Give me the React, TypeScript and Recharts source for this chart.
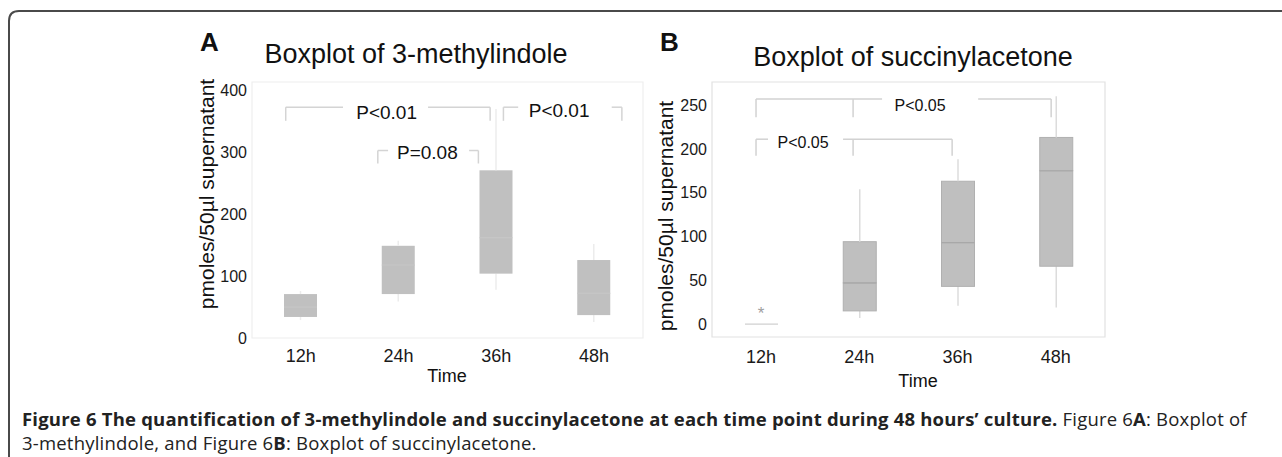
import React from 'react';
import {
    ComposedChart,
    Bar,
    Scatter,
    XAxis,
    YAxis,
    ReferenceLine,
    ReferenceDot,
    ReferenceArea,
} from 'recharts';

const times = ['12h', '24h', '36h', '48h'];
const positions = [1, 2, 3, 4];

// A: 3-methylindole (pmoles/50ul)
const indoleLow = [29, 59, 78, 26];
const indoleQ1 = [34, 71, 104, 37];
const indoleMedian = [50, 118, 162, 72];
const indoleQ3 = [71, 149, 271, 126];
const indoleHigh = [76, 157, 370, 152];

// B: succinylacetone
const succLow = [0, 7, 21, 19];
const succQ1 = [0, 15, 43, 66];
const succMedian = [0, 47, 93, 175];
const succQ3 = [0, 94, 163, 213];
const succHigh = [0, 154, 188, 260];
const succOutlierPos = [1];
const succOutlierVal = [17];

const indoleTicks = [0, 100, 200, 300, 400];
const succTicks = [0, 50, 100, 150, 200, 250];

// significance brackets, in axis units
const indoleBracketLabels = ['P<0.01', 'P<0.01', 'P=0.08'];
const indoleBracketEnds = [[0.845, 2.936], [3.072, 4.284], [1.787, 2.816]];
const indoleBracketY = [373, 373, 303];
const indoleBracketDrop = [351, 351, 282];
const indoleBracketGap = [[1.431, 2.301], [3.223, 4.18], [1.892, 2.721]];
const indoleLabelX = [1.877, 3.642, 2.294];
const indoleLabelY = [364, 367, 300];

const succBracketLabels = ['P<0.05', 'P<0.05'];
const succBracketEnds = [[0.948, 1.936, 3.952], [0.948, 1.936, 2.944]];
const succBracketY = [257, 211];
const succBracketDrop = [236, 192];
const succBracketGap = [[2.231, 3.209], [1.07, 1.834]];
const succLabelX = [2.618, 1.427];
const succLabelY = [250, 207];

const font = "'Liberation Sans', Arial, Helvetica, sans-serif";
const captionFont = "'Open Sans', sans-serif";

type BoxStyle = { fill: string; edge: string; median: string; whisker: string; bracket: string };

const styleA: BoxStyle = { fill: '#c0c0c0', edge: 'none', median: '#c5c5c5', whisker: '#ececec', bracket: '#d4d4d4' };
const styleB: BoxStyle = { fill: '#bfbfbf', edge: '#b0b0b0', median: '#a8a8a8', whisker: '#dcdcdc', bracket: '#d2d2d2' };

function buildRows(low: number[], q1: number[], med: number[], q3: number[], high: number[]) {
    return positions.map((pos, i) => ({
        pos,
        base: low[i],
        lowWhisker: q1[i] - low[i],
        lowBox: med[i] - q1[i],
        highBox: q3[i] - med[i],
        highWhisker: high[i] - q3[i],
    }));
}

const whiskerShape = (color: string) => (p: any) => {
    const cx = p.x + p.width / 2;
    return <line x1={cx} x2={cx} y1={p.y} y2={p.y + p.height} stroke={color} strokeWidth={1.5} />;
};

const boxShape = (s: BoxStyle, withMedian: boolean) => (p: any) => (
    <g>
        {p.height > 0 && (
            <rect x={p.x} y={p.y} width={p.width} height={p.height} fill={s.fill} stroke={s.edge} strokeWidth={1} />
        )}
        {withMedian && (
            <line
                x1={p.x}
                x2={p.x + p.width}
                y1={p.y + p.height}
                y2={p.y + p.height}
                stroke={p.height > 0 ? s.median : '#d0d0d0'}
                strokeWidth={1.2}
            />
        )}
    </g>
);

const noShape = () => <g />;

function brackets(
    labels: string[],
    ends: number[][],
    ys: number[],
    drops: number[],
    gaps: number[][],
    lx: number[],
    ly: number[],
    color: string,
    fontSize: number,
) {
    const out: React.ReactNode[] = [];
    labels.forEach((label, i) => {
        const e = ends[i];
        const y = ys[i];
        out.push(
            <ReferenceLine key={`l${i}`} segment={[{ x: e[0], y }, { x: gaps[i][0], y }]} stroke={color} strokeWidth={1.5} />,
            <ReferenceLine key={`r${i}`} segment={[{ x: gaps[i][1], y }, { x: e[e.length - 1], y }]} stroke={color} strokeWidth={1.5} />,
        );
        e.forEach((x, j) => {
            out.push(
                <ReferenceLine key={`t${i}-${j}`} segment={[{ x, y }, { x, y: drops[i] }]} stroke={color} strokeWidth={1.5} />,
            );
        });
        out.push(
            <ReferenceDot
                key={`p${i}`}
                x={lx[i]}
                y={ly[i]}
                r={0}
                shape={(p: any) => (
                    <text x={p.cx} y={p.cy} textAnchor="middle" dominantBaseline="central" fontFamily={font} fontSize={fontSize} fill="#111">
                        {label}
                    </text>
                )}
            />,
        );
    });
    return out;
}

interface PanelProps {
    rows: ReturnType<typeof buildRows>;
    s: BoxStyle;
    width: number;
    margin: { top: number; right: number; bottom: number; left: number };
    yWidth: number;
    domain: [number, number];
    ticks: number[];
    tickGap: number;
    children?: React.ReactNode;
}

function BoxPanel({ rows, s, width, margin, yWidth, domain, ticks, tickGap, children }: PanelProps) {
    return (
        <ComposedChart width={width} height={400} data={rows} margin={margin}>
            <XAxis
                dataKey="pos"
                type="number"
                domain={[0.5, 4.5]}
                ticks={positions}
                tickFormatter={(v: number) => times[v - 1]}
                axisLine={false}
                tickLine={false}
                tickSize={0}
                tickMargin={tickGap}
                height={30}
                allowDataOverflow
                tick={{ fill: '#1a1a1a', fontSize: 18, fontFamily: font }}
            />
            <YAxis
                type="number"
                domain={domain}
                ticks={ticks}
                axisLine={false}
                tickLine={false}
                tickSize={0}
                tickMargin={5}
                width={yWidth}
                allowDataOverflow
                tick={{ fill: '#1a1a1a', fontSize: 16, fontFamily: font }}
            />
            <ReferenceArea x1={0.5} x2={4.5} y1={domain[0]} y2={domain[1]} fill="none" stroke={s.edge === 'none' ? '#eeeeee' : '#e2e2e2'} strokeWidth={1.2} />
            <Bar dataKey="base" stackId="box" barSize={33} shape={noShape} isAnimationActive={false} />
            <Bar dataKey="lowWhisker" stackId="box" barSize={33} shape={whiskerShape(s.whisker)} isAnimationActive={false} />
            <Bar dataKey="lowBox" stackId="box" barSize={33} shape={boxShape(s, false)} isAnimationActive={false} />
            <Bar dataKey="highBox" stackId="box" barSize={33} shape={boxShape(s, true)} isAnimationActive={false} />
            <Bar dataKey="highWhisker" stackId="box" barSize={33} shape={whiskerShape(s.whisker)} isAnimationActive={false} />
            {children}
        </ComposedChart>
    );
}

const indoleRows = buildRows(indoleLow, indoleQ1, indoleMedian, indoleQ3, indoleHigh);
const succRows = buildRows(succLow, succQ1, succMedian, succQ3, succHigh);
const succOutliers = succOutlierPos.map((pos, i) => ({ pos, val: succOutlierVal[i] }));

const asterisk = (p: any) => (
    <text x={p.cx} y={p.cy + 4} textAnchor="middle" dominantBaseline="central" fontFamily={font} fontSize={17} fill="#a0a0a0">
        *
    </text>
);

export default function App() {
    return (
        <div style={{ position: 'absolute', left: 0, top: 0, width: 1282, height: 457, background: '#fff', overflow: 'hidden' }}>
            <div style={{ position: 'absolute', left: 0, top: 0 }}>
                <BoxPanel
                    rows={indoleRows}
                    s={styleA}
                    width={660}
                    margin={{ top: 82, right: 17, bottom: 32, left: 192 }}
                    yWidth={60}
                    domain={[0, 413.7]}
                    ticks={indoleTicks}
                    tickGap={11}
                >
                    {brackets(indoleBracketLabels, indoleBracketEnds, indoleBracketY, indoleBracketDrop, indoleBracketGap, indoleLabelX, indoleLabelY, styleA.bracket, 19)}
                </BoxPanel>
            </div>
            <div style={{ position: 'absolute', left: 650, top: 0 }}>
                <BoxPanel
                    rows={succRows}
                    s={styleB}
                    width={480}
                    margin={{ top: 82, right: 25, bottom: 33, left: 7 }}
                    yWidth={55}
                    domain={[-14.8, 276.3]}
                    ticks={succTicks}
                    tickGap={13}
                >
                    <Scatter data={succOutliers} dataKey="val" shape={asterisk} isAnimationActive={false} />
                    {brackets(succBracketLabels, succBracketEnds, succBracketY, succBracketDrop, succBracketGap, succLabelX, succLabelY, styleB.bracket, 16)}
                </BoxPanel>
            </div>
            <svg width={1282} height={457} style={{ position: 'absolute', left: 0, top: 0, pointerEvents: 'none' }}>
                <path d="M 9 457 L 9 21 Q 9 11 19 11 L 1282 11" fill="none" stroke="#4a4a4a" strokeWidth={2} />
                <text x={200} y={51} fontFamily={font} fontWeight="bold" fontSize={26} fill="#111">A</text>
                <text x={660} y={51} fontFamily={font} fontWeight="bold" fontSize={26} fill="#111">B</text>
                <text x={416} y={63} textAnchor="middle" fontFamily={font} fontSize={27} fill="#111">Boxplot of 3-methylindole</text>
                <text x={913} y={66} textAnchor="middle" fontFamily={font} fontSize={27} fill="#111">Boxplot of succinylacetone</text>
                <text x={206} y={194} transform="rotate(-90 206 194)" textAnchor="middle" dominantBaseline="central" fontFamily={font} fontSize={21} fill="#111">
                    pmoles/50µl supernatant
                </text>
                <text x={665} y={216} transform="rotate(-90 665 216)" textAnchor="middle" dominantBaseline="central" fontFamily={font} fontSize={21} fill="#111">
                    pmoles/50µl supernatant
                </text>
                <text x={447} y={382} textAnchor="middle" fontFamily={font} fontSize={18} fill="#111">Time</text>
                <text x={918} y={387} textAnchor="middle" fontFamily={font} fontSize={18} fill="#111">Time</text>
                <text x={22} y={426} fontFamily={captionFont} fontSize={18.5} letterSpacing={0.2} fill="#222">
                    <tspan fontWeight="bold">Figure 6 The quantification of 3-methylindole and succinylacetone at each time point during 48 hours’ culture.</tspan>
                    <tspan> Figure 6</tspan>
                    <tspan fontWeight="bold">A</tspan>
                    <tspan>: Boxplot of</tspan>
                </text>
                <text x={22} y={450} fontFamily={captionFont} fontSize={18.5} letterSpacing={0.2} fill="#222">
                    <tspan>3-methylindole, and Figure 6</tspan>
                    <tspan fontWeight="bold">B</tspan>
                    <tspan>: Boxplot of succinylacetone.</tspan>
                </text>
            </svg>
        </div>
    );
}
